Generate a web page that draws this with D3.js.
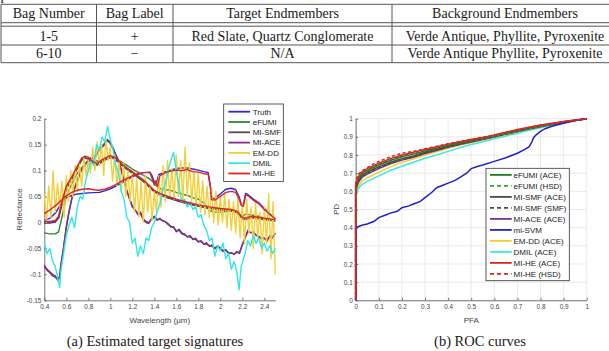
<!DOCTYPE html>
<html>
<head>
<meta charset="utf-8">
<script src="https://cdn.jsdelivr.net/npm/d3@7"></script>
<style>
body { margin: 0; background: #fff; }
svg { display: block; }
.serif { font-family: "Liberation Serif", "Times New Roman", Times, serif; fill: #1a1a1a; }
.axis text { font-family: "Liberation Sans", Arial, sans-serif; font-size: 6.4px; fill: #444; }
.axis path, .axis line { stroke: #555; stroke-width: 0.8; }
.lab { font-family: "Liberation Sans", Arial, sans-serif; font-size: 8px; fill: #444; }
.leg { font-family: "Liberation Sans", Arial, sans-serif; font-size: 8px; fill: #222; }
</style>
</head>
<body>
<svg width="609" height="351"></svg>
<script>
// table
var tableHead = ["Bag Number", "Bag Label", "Target Endmembers", "Background Endmembers"];
var tableRows = [
  ["1-5", "+", "Red Slate, Quartz Conglomerate", "Verde Antique, Phyllite, Pyroxenite"],
  ["6-10", "\u2212", "N/A", "Verde Antique Phyllite, Pyroxenite"]
];

// (a) estimated target signatures, [wavelength, reflectance]
var sigNames = ["Truth", "eFUMI", "MI-SMF", "MI-ACE", "EM-DD", "DMIL", "MI-HE"];
var sigColors = ["#2a2ae0", "#2a8a2a", "#505050", "#7e2f8e", "#f3cf3a", "#2ee8e8", "#e32222"];

var truthA = [[0.40,0.004],[0.45,0.008],[0.50,0.018],[0.55,0.035],[0.60,0.048],[0.65,0.052],[0.70,0.055],[0.80,0.057],[0.90,0.058],[0.95,0.061],[1.00,0.065],[1.05,0.070],[1.10,0.076],[1.15,0.082],[1.20,0.088],[1.25,0.093],[1.30,0.096],[1.36,0.097],[1.38,0.090],[1.40,0.078],[1.42,0.076],[1.44,0.092],[1.50,0.098],[1.55,0.101],[1.60,0.104],[1.65,0.105],[1.70,0.105],[1.75,0.103],[1.80,0.101],[1.85,0.098],[1.89,0.096],[1.91,0.070],[1.92,0.047],[1.95,0.046],[2.00,0.055],[2.05,0.064],[2.10,0.066],[2.14,0.063],[2.17,0.050],[2.19,0.036],[2.21,0.034],[2.23,0.056],[2.25,0.054],[2.30,0.045],[2.35,0.038],[2.40,0.027],[2.45,0.017],[2.50,0.006]];
var truthB = [[0.40,-0.001],[0.45,-0.001],[0.50,0.001],[0.53,0.009],[0.56,0.036],[0.60,0.066],[0.65,0.085],[0.70,0.105],[0.74,0.121],[0.77,0.125],[0.80,0.123],[0.84,0.114],[0.88,0.111],[0.92,0.117],[0.96,0.122],[1.00,0.126],[1.04,0.123],[1.08,0.116],[1.12,0.108],[1.16,0.102],[1.20,0.096],[1.25,0.088],[1.30,0.080],[1.35,0.070],[1.40,0.060],[1.45,0.054],[1.50,0.050],[1.60,0.043],[1.70,0.037],[1.80,0.032],[1.90,0.028],[2.00,0.025],[2.10,0.023],[2.15,0.020],[2.20,0.008],[2.23,0.006],[2.28,0.010],[2.35,0.008],[2.40,0.006],[2.45,0.005],[2.50,0.003]];
var efumi = [[0.40,-0.020],[0.45,-0.022],[0.50,-0.022],[0.53,-0.018],[0.56,0.010],[0.60,0.050],[0.65,0.075],[0.70,0.095],[0.75,0.108],[0.80,0.118],[0.85,0.120],[0.90,0.118],[0.95,0.122],[1.00,0.127],[1.05,0.124],[1.10,0.117],[1.15,0.110],[1.20,0.103],[1.25,0.097],[1.30,0.091],[1.35,0.085],[1.40,0.076],[1.43,0.068],[1.47,0.064],[1.50,0.063],[1.55,0.062],[1.60,0.058],[1.65,0.055],[1.70,0.052],[1.75,0.048],[1.80,0.045],[1.85,0.038],[1.88,0.030],[1.90,0.023],[1.95,0.020],[2.00,0.020],[2.05,0.021],[2.10,0.022],[2.15,0.019],[2.20,0.012],[2.23,0.016],[2.30,0.014],[2.35,0.012],[2.40,0.008],[2.45,0.005],[2.50,0.004]];
var miSmf = [[0.400,-0.085],[0.425,-0.092],[0.450,-0.097],[0.475,-0.103],[0.500,-0.106],[0.525,-0.110],[0.540,-0.103],[0.550,-0.082],[0.575,-0.048],[0.600,-0.008],[0.625,0.022],[0.650,0.047],[0.675,0.066],[0.700,0.082],[0.725,0.097],[0.750,0.107],[0.775,0.114],[0.800,0.120],[0.825,0.122],[0.850,0.125],[0.875,0.132],[0.900,0.142],[0.925,0.147],[0.950,0.153],[0.975,0.160],[1.000,0.154],[1.025,0.144],[1.050,0.131],[1.075,0.120],[1.100,0.102],[1.125,0.082],[1.150,0.062],[1.175,0.046],[1.200,0.032],[1.225,0.024],[1.250,0.018],[1.275,0.016],[1.300,0.007],[1.325,0.002],[1.350,0.000],[1.375,0.006],[1.400,0.010],[1.425,0.006],[1.450,0.006],[1.475,0.004],[1.500,0.001],[1.525,-0.004],[1.550,-0.007],[1.575,-0.010],[1.600,-0.016],[1.625,-0.015],[1.650,-0.022],[1.675,-0.024],[1.700,-0.027],[1.725,-0.028],[1.750,-0.031],[1.775,-0.033],[1.800,-0.036],[1.825,-0.037],[1.850,-0.041],[1.875,-0.042],[1.900,-0.044],[1.925,-0.046],[1.950,-0.049],[1.975,-0.046],[2.000,-0.049],[2.025,-0.054],[2.050,-0.054],[2.075,-0.058],[2.100,-0.059],[2.125,-0.060],[2.150,-0.058],[2.175,-0.057],[2.200,-0.044],[2.225,-0.030],[2.250,-0.018],[2.275,-0.019],[2.300,-0.020],[2.325,-0.024],[2.350,-0.027],[2.375,-0.030],[2.400,-0.031],[2.425,-0.033],[2.450,-0.027],[2.475,-0.028],[2.500,-0.021]];
var miSmfB = [[0.40,0.000],[0.45,0.001],[0.50,0.002],[0.53,0.008],[0.56,0.034],[0.60,0.064],[0.65,0.084],[0.70,0.104],[0.74,0.120],[0.77,0.124],[0.80,0.122],[0.84,0.114],[0.88,0.111],[0.92,0.116],[0.96,0.121],[1.00,0.125],[1.04,0.122],[1.08,0.115],[1.12,0.107],[1.16,0.101],[1.20,0.095],[1.25,0.087],[1.30,0.079],[1.35,0.069],[1.40,0.059],[1.45,0.053],[1.50,0.049],[1.60,0.042],[1.70,0.036],[1.80,0.031],[1.90,0.027],[2.00,0.024],[2.10,0.022],[2.15,0.019],[2.20,0.007],[2.23,0.005],[2.28,0.009],[2.35,0.007],[2.40,0.005],[2.45,0.004],[2.50,0.002]];
var miAce = [[0.400,-0.082],[0.425,-0.090],[0.450,-0.095],[0.475,-0.100],[0.500,-0.103],[0.525,-0.112],[0.540,-0.106],[0.550,-0.085],[0.575,-0.050],[0.600,-0.010],[0.625,0.020],[0.650,0.045],[0.675,0.065],[0.700,0.080],[0.725,0.095],[0.750,0.105],[0.775,0.112],[0.800,0.118],[0.825,0.125],[0.850,0.122],[0.875,0.130],[0.900,0.140],[0.925,0.145],[0.950,0.150],[0.975,0.158],[1.000,0.152],[1.025,0.142],[1.050,0.130],[1.075,0.118],[1.100,0.100],[1.125,0.080],[1.150,0.060],[1.175,0.045],[1.200,0.030],[1.225,0.025],[1.250,0.015],[1.275,0.020],[1.300,0.005],[1.325,0.000],[1.350,-0.002],[1.375,0.008],[1.400,0.012],[1.425,0.004],[1.450,0.008],[1.475,0.003],[1.500,0.002],[1.525,-0.002],[1.550,-0.009],[1.575,-0.008],[1.600,-0.018],[1.625,-0.013],[1.650,-0.020],[1.675,-0.022],[1.700,-0.028],[1.725,-0.025],[1.750,-0.033],[1.775,-0.030],[1.800,-0.038],[1.825,-0.035],[1.850,-0.042],[1.875,-0.039],[1.900,-0.046],[1.925,-0.043],[1.950,-0.051],[1.975,-0.045],[2.000,-0.050],[2.025,-0.056],[2.050,-0.052],[2.075,-0.060],[2.100,-0.058],[2.125,-0.062],[2.150,-0.056],[2.175,-0.060],[2.200,-0.042],[2.225,-0.030],[2.250,-0.015],[2.275,-0.020],[2.300,-0.018],[2.325,-0.025],[2.350,-0.028],[2.375,-0.032],[2.400,-0.030],[2.425,-0.036],[2.450,-0.025],[2.475,-0.030],[2.500,-0.020]];
var emdd = [[0.40,0.055],[0.42,0.000],[0.44,0.070],[0.46,0.010],[0.48,0.100],[0.50,0.020],[0.52,0.075],[0.54,0.030],[0.56,0.080],[0.58,0.010],[0.60,0.090],[0.62,0.040],[0.64,0.100],[0.66,0.050],[0.68,0.110],[0.70,0.060],[0.72,0.115],[0.74,0.070],[0.76,0.125],[0.78,0.090],[0.80,0.120],[0.82,0.095],[0.84,0.145],[0.86,0.100],[0.88,0.155],[0.90,0.110],[0.92,0.150],[0.94,0.090],[0.96,0.160],[0.98,0.120],[1.00,0.145],[1.02,0.080],[1.04,0.130],[1.06,0.070],[1.08,0.120],[1.10,0.060],[1.12,0.115],[1.14,0.050],[1.16,0.100],[1.18,0.040],[1.20,0.095],[1.22,0.020],[1.24,0.085],[1.26,0.010],[1.28,0.080],[1.30,0.000],[1.32,0.090],[1.34,0.020],[1.36,0.070],[1.38,0.005],[1.40,0.060],[1.42,0.020],[1.44,0.090],[1.46,0.030],[1.48,0.110],[1.50,0.040],[1.52,0.120],[1.54,0.050],[1.56,0.105],[1.58,0.045],[1.60,0.130],[1.62,0.050],[1.64,0.120],[1.66,0.040],[1.68,0.145],[1.70,0.050],[1.72,0.115],[1.74,0.040],[1.76,0.100],[1.78,0.030],[1.80,0.095],[1.82,0.020],[1.84,0.080],[1.86,0.015],[1.88,0.070],[1.90,0.010],[1.92,0.065],[1.94,0.000],[1.96,0.060],[1.98,-0.005],[2.00,0.050],[2.02,0.000],[2.04,0.055],[2.06,-0.010],[2.08,0.045],[2.10,-0.015],[2.12,0.040],[2.14,-0.020],[2.16,0.050],[2.18,-0.030],[2.20,0.035],[2.22,-0.040],[2.24,0.045],[2.26,-0.020],[2.28,0.030],[2.30,-0.050],[2.32,0.040],[2.34,-0.030],[2.36,0.020],[2.38,-0.060],[2.40,0.030],[2.42,-0.040],[2.44,0.055],[2.46,-0.070],[2.48,0.040],[2.50,-0.100]];
var dmil = [[0.400,-0.040],[0.425,-0.060],[0.450,-0.050],[0.475,-0.075],[0.500,-0.085],[0.525,-0.110],[0.540,-0.125],[0.550,-0.095],[0.575,-0.060],[0.600,-0.025],[0.625,-0.005],[0.650,0.010],[0.675,-0.010],[0.700,0.030],[0.725,0.050],[0.750,0.045],[0.775,0.080],[0.800,0.100],[0.825,0.120],[0.850,0.110],[0.875,0.150],[0.900,0.140],[0.925,0.165],[0.950,0.155],[0.975,0.185],[1.000,0.160],[1.025,0.140],[1.050,0.110],[1.075,0.095],[1.100,0.060],[1.125,0.045],[1.150,0.010],[1.175,0.000],[1.200,-0.040],[1.225,-0.030],[1.250,-0.065],[1.275,-0.045],[1.300,-0.060],[1.325,-0.030],[1.350,-0.035],[1.375,-0.010],[1.400,0.000],[1.425,0.020],[1.450,0.035],[1.475,0.060],[1.500,0.075],[1.525,0.100],[1.550,0.120],[1.575,0.135],[1.600,0.100],[1.625,0.070],[1.650,0.040],[1.675,0.045],[1.700,0.030],[1.725,0.040],[1.750,0.025],[1.775,0.030],[1.800,0.010],[1.825,0.015],[1.850,-0.005],[1.875,-0.015],[1.900,-0.035],[1.925,-0.030],[1.950,-0.065],[1.975,-0.045],[2.000,-0.055],[2.025,-0.040],[2.050,-0.070],[2.075,-0.060],[2.100,-0.090],[2.125,-0.075],[2.150,-0.095],[2.170,-0.130],[2.190,-0.085],[2.225,-0.060],[2.250,-0.035],[2.275,-0.045],[2.300,-0.025],[2.325,-0.040],[2.350,-0.030],[2.375,-0.050],[2.400,-0.040],[2.425,-0.055],[2.450,-0.045],[2.475,-0.060],[2.500,-0.050]];
var miheA = [[0.40,0.017],[0.45,0.024],[0.50,0.032],[0.55,0.042],[0.60,0.051],[0.65,0.058],[0.70,0.062],[0.75,0.064],[0.80,0.065],[0.85,0.063],[0.90,0.062],[0.95,0.064],[1.00,0.068],[1.05,0.073],[1.10,0.079],[1.15,0.085],[1.20,0.090],[1.25,0.094],[1.30,0.096],[1.36,0.096],[1.38,0.085],[1.40,0.072],[1.41,0.080],[1.43,0.070],[1.45,0.090],[1.50,0.096],[1.55,0.099],[1.60,0.101],[1.65,0.100],[1.70,0.102],[1.75,0.098],[1.80,0.097],[1.85,0.094],[1.89,0.093],[1.91,0.068],[1.92,0.044],[1.95,0.043],[2.00,0.050],[2.05,0.058],[2.10,0.060],[2.14,0.058],[2.17,0.046],[2.19,0.033],[2.21,0.031],[2.23,0.053],[2.25,0.052],[2.30,0.043],[2.35,0.036],[2.40,0.025],[2.45,0.016],[2.50,0.007]];
var miheB = [[0.40,0.002],[0.45,0.002],[0.50,0.004],[0.53,0.012],[0.56,0.040],[0.60,0.070],[0.65,0.088],[0.70,0.108],[0.74,0.124],[0.77,0.128],[0.80,0.126],[0.84,0.117],[0.88,0.114],[0.92,0.120],[0.96,0.125],[1.00,0.129],[1.04,0.126],[1.08,0.118],[1.12,0.110],[1.16,0.104],[1.20,0.098],[1.25,0.090],[1.30,0.082],[1.35,0.072],[1.40,0.062],[1.45,0.056],[1.50,0.052],[1.60,0.045],[1.70,0.039],[1.80,0.034],[1.90,0.030],[2.00,0.027],[2.10,0.025],[2.15,0.022],[2.20,0.010],[2.23,0.008],[2.28,0.012],[2.35,0.010],[2.40,0.008],[2.45,0.007],[2.50,0.005]];

var sigXTicks = [0.4, 0.6, 0.8, 1, 1.2, 1.4, 1.6, 1.8, 2, 2.2, 2.4];
var sigYTicks = [-0.15, -0.1, -0.05, 0, 0.05, 0.1, 0.15, 0.2];

// (b) ROC curves
var pfa = [0, 0, 0.005, 0.01, 0.02, 0.03, 0.05, 0.075, 0.1, 0.15, 0.2, 0.25, 0.3, 0.35, 0.4, 0.45, 0.5, 0.55, 0.6, 0.65, 0.7, 0.75, 0.8, 0.85, 0.9, 0.95, 1];
var pdEfumiAce = [0, 0.62, 0.645, 0.665, 0.685, 0.70, 0.715, 0.73, 0.745, 0.77, 0.79, 0.805, 0.822, 0.838, 0.853, 0.868, 0.88, 0.893, 0.907, 0.922, 0.937, 0.95, 0.962, 0.972, 0.982, 0.991, 1];
var pdEfumiHsd = [0, 0.63, 0.65, 0.67, 0.69, 0.70, 0.72, 0.735, 0.75, 0.775, 0.795, 0.81, 0.825, 0.84, 0.855, 0.868, 0.878, 0.89, 0.902, 0.915, 0.928, 0.942, 0.955, 0.967, 0.978, 0.989, 1];
var pdSmfAce = [0, 0.61, 0.635, 0.655, 0.675, 0.69, 0.705, 0.72, 0.735, 0.76, 0.78, 0.795, 0.815, 0.832, 0.848, 0.863, 0.876, 0.89, 0.905, 0.92, 0.935, 0.948, 0.96, 0.971, 0.982, 0.991, 1];
var pdSmfSmf = [0, 0.60, 0.63, 0.65, 0.67, 0.685, 0.70, 0.715, 0.73, 0.755, 0.775, 0.79, 0.81, 0.827, 0.844, 0.86, 0.874, 0.887, 0.9, 0.915, 0.93, 0.944, 0.957, 0.969, 0.98, 0.99, 1];
var pdAceAce = [0, 0.60, 0.625, 0.645, 0.665, 0.68, 0.695, 0.71, 0.725, 0.752, 0.772, 0.788, 0.808, 0.825, 0.842, 0.858, 0.872, 0.886, 0.9, 0.915, 0.93, 0.944, 0.957, 0.969, 0.98, 0.99, 1];
var pdEmdd = [0, 0.58, 0.605, 0.625, 0.645, 0.66, 0.675, 0.69, 0.705, 0.735, 0.76, 0.778, 0.80, 0.818, 0.837, 0.853, 0.868, 0.882, 0.897, 0.912, 0.927, 0.942, 0.955, 0.967, 0.979, 0.99, 1];
var pdDmil = [0, 0.56, 0.59, 0.61, 0.63, 0.64, 0.655, 0.67, 0.685, 0.715, 0.738, 0.76, 0.782, 0.80, 0.82, 0.84, 0.858, 0.873, 0.89, 0.905, 0.92, 0.936, 0.95, 0.964, 0.977, 0.989, 1];
var pdMiheAce = [0, 0.64, 0.66, 0.68, 0.70, 0.71, 0.725, 0.74, 0.755, 0.78, 0.80, 0.815, 0.83, 0.845, 0.86, 0.873, 0.885, 0.897, 0.91, 0.925, 0.94, 0.953, 0.965, 0.975, 0.985, 0.993, 1];
var pdMiheHsd = [0, 0.65, 0.675, 0.69, 0.705, 0.715, 0.73, 0.75, 0.765, 0.79, 0.81, 0.82, 0.835, 0.848, 0.862, 0.875, 0.886, 0.898, 0.91, 0.924, 0.938, 0.952, 0.963, 0.974, 0.984, 0.992, 1];
var pfaSvm = [0, 0, 0.01, 0.03, 0.05, 0.08, 0.1, 0.13, 0.15, 0.18, 0.2, 0.23, 0.25, 0.28, 0.3, 0.33, 0.35, 0.38, 0.4, 0.43, 0.45, 0.48, 0.5, 0.53, 0.55, 0.6, 0.65, 0.7, 0.73, 0.75, 0.76, 0.77, 0.78, 0.8, 0.82, 0.85, 0.9, 0.95, 1];
var pdSvm = [0, 0.395, 0.405, 0.415, 0.42, 0.435, 0.455, 0.47, 0.48, 0.49, 0.51, 0.52, 0.53, 0.545, 0.565, 0.595, 0.62, 0.635, 0.645, 0.66, 0.675, 0.70, 0.725, 0.738, 0.745, 0.765, 0.785, 0.81, 0.83, 0.845, 0.865, 0.895, 0.91, 0.93, 0.945, 0.958, 0.975, 0.99, 1];

var rocNames = ["eFUMI (ACE)", "eFUMI (HSD)", "MI-SMF (ACE)", "MI-SMF (SMF)", "MI-ACE (ACE)", "mi-SVM", "EM-DD (ACE)", "DMIL (ACE)", "MI-HE (ACE)", "MI-HE (HSD)"];
var rocColors = ["#1e7e1e", "#2ea82e", "#4a4a4a", "#4a4a4a", "#7e2f8e", "#2020cc", "#f5d030", "#3ee6e6", "#e32222", "#e32222"];
var rocDash = [false, true, false, true, false, false, false, false, false, true];
var rocTicks = [0, 0.1, 0.2, 0.3, 0.4, 0.5, 0.6, 0.7, 0.8, 0.9, 1];

var svg = d3.select("svg");
svg.append("rect").attr("width", 609).attr("height", 351).attr("fill", "#fff");

// ---------- table ----------
var colX = [1, 96.5, 173, 392, 618];
var hLines = [4.3, 22.7, 26.2, 45, 62.7];
var tg = svg.append("g");
hLines.forEach(function(y) {
  tg.append("line").attr("x1", colX[0]).attr("x2", colX[4]).attr("y1", y).attr("y2", y)
    .attr("stroke", "#555").attr("stroke-width", 1);
});
colX.forEach(function(x) {
  tg.append("line").attr("x1", x).attr("x2", x).attr("y1", hLines[0]).attr("y2", hLines[4])
    .attr("stroke", "#555").attr("stroke-width", 1);
});
var rowBase = [17.6, 40.6, 58.2];
[tableHead].concat(tableRows).forEach(function(row, r) {
  row.forEach(function(t, c) {
    tg.append("text").attr("class", "serif")
      .attr("x", (colX[c] + colX[c + 1]) / 2).attr("y", rowBase[r])
      .attr("text-anchor", "middle").style("font-size", "14px")
      .attr("fill", (r > 0 && c == 1) ? "#777" : "#1a1a1a")
      .text(t);
  });
});
// descender of the text above the table
tg.append("text").attr("class", "serif").attr("x", 0.5).attr("y", -0.5).style("font-size", "14px").text("p");

// ---------- (a) signatures ----------
var xL = d3.scaleLinear().domain([0.4, 2.5]).range([44.3, 275.3]);
var yL = d3.scaleLinear().domain([-0.15, 0.2]).range([300.3, 118.7]);

svg.append("g").attr("class", "axis")
    .attr("transform", "translate(0," + yL(-0.15) + ")")
    .call(d3.axisBottom(xL).tickValues(sigXTicks).tickFormat(String).tickSizeInner(-2.5).tickSizeOuter(0).tickPadding(4));
svg.append("g").attr("class", "axis")
    .attr("transform", "translate(" + xL(0.4) + ",0)")
    .call(d3.axisLeft(yL).tickValues(sigYTicks).tickFormat(String).tickSizeInner(-2.5).tickSizeOuter(0).tickPadding(3));

var lineL = d3.line().x(function(d) { return xL(d[0]); }).y(function(d) { return yL(d[1]); });
var sigSeries = [
  [truthA, 0], [truthB, 0], [efumi, 1], [miSmfB, 2], [miSmf, 2], [miAce, 3],
  [emdd, 4], [dmil, 5], [miheA, 6], [miheB, 6]
];
svg.append("g").selectAll("path").data(sigSeries).enter().append("path")
    .attr("d", function(d) { return lineL(d[0]); })
    .attr("fill", "none")
    .attr("stroke", function(d) { return sigColors[d[1]]; })
    .attr("stroke-width", 1.4)
    .attr("stroke-linejoin", "round");

svg.append("text").attr("class", "lab").attr("x", 159.8).attr("y", 322.5)
    .attr("text-anchor", "middle").text("Wavelength (\u03bcm)");
svg.append("text").attr("class", "lab").attr("transform", "translate(22.3,209.5) rotate(-90)")
    .attr("text-anchor", "middle").text("Reflectance");

var legA = svg.append("g");
legA.append("rect").attr("x", 223.7).attr("y", 104).attr("width", 59.6).attr("height", 77.5)
    .attr("fill", "#fff").attr("stroke", "#333").attr("stroke-width", 0.8);
sigNames.forEach(function(n, i) {
  var y = 111.7 + i * 10.3;
  legA.append("line").attr("x1", 228.3).attr("x2", 250).attr("y1", y).attr("y2", y)
      .attr("stroke", sigColors[i]).attr("stroke-width", 1.8);
  legA.append("text").attr("class", "leg").attr("x", 252.7).attr("y", y + 2.8).text(n);
});

svg.append("text").attr("class", "serif").attr("x", 155).attr("y", 346)
    .attr("text-anchor", "middle").style("font-size", "14.5px").text("(a)  Estimated target signatures");

// ---------- (b) ROC ----------
var xR = d3.scaleLinear().domain([0, 1]).range([355.7, 586.7]);
var yR = d3.scaleLinear().domain([0, 1]).range([300.3, 118.7]);

var grid = svg.append("g").attr("stroke", "#e3e3e3").attr("stroke-width", 0.8);
rocTicks.forEach(function(t) {
  grid.append("line").attr("x1", xR(t)).attr("x2", xR(t)).attr("y1", yR(0)).attr("y2", yR(1));
  grid.append("line").attr("x1", xR(0)).attr("x2", xR(1)).attr("y1", yR(t)).attr("y2", yR(t));
});

svg.append("g").attr("class", "axis")
    .attr("transform", "translate(0," + yR(0) + ")")
    .call(d3.axisBottom(xR).tickValues(rocTicks).tickFormat(String).tickSizeInner(-2.5).tickSizeOuter(0).tickPadding(4));
svg.append("g").attr("class", "axis")
    .attr("transform", "translate(" + xR(0) + ",0)")
    .call(d3.axisLeft(yR).tickValues(rocTicks).tickFormat(String).tickSizeInner(-2.5).tickSizeOuter(0).tickPadding(3));

function pairs(xs, ys) { return xs.map(function(x, i) { return [x, ys[i]]; }); }
var rocData = [
  pairs(pfa, pdEfumiAce), pairs(pfa, pdEfumiHsd), pairs(pfa, pdSmfAce), pairs(pfa, pdSmfSmf),
  pairs(pfa, pdAceAce), pairs(pfaSvm, pdSvm), pairs(pfa, pdEmdd), pairs(pfa, pdDmil),
  pairs(pfa, pdMiheAce), pairs(pfa, pdMiheHsd)
];
var rocOrder = [6, 7, 4, 3, 2, 1, 0, 5, 9, 8];
var lineR = d3.line().x(function(d) { return xR(d[0]); }).y(function(d) { return yR(d[1]); });
svg.append("g").selectAll("path").data(rocOrder).enter().append("path")
    .attr("d", function(i) { return lineR(rocData[i]); })
    .attr("fill", "none")
    .attr("stroke", function(i) { return rocColors[i]; })
    .attr("stroke-width", 1.5)
    .attr("stroke-dasharray", function(i) { return rocDash[i] ? "3,2.5" : null; });

svg.append("text").attr("class", "lab").attr("x", 471.2).attr("y", 322.5)
    .attr("text-anchor", "middle").text("PFA");
svg.append("text").attr("class", "lab").attr("transform", "translate(339,209.5) rotate(-90)")
    .attr("text-anchor", "middle").text("PD");

var legB = svg.append("g");
legB.append("rect").attr("x", 486).attr("y", 168.3).attr("width", 83.3).attr("height", 112.4)
    .attr("fill", "#fff").attr("stroke", "#333").attr("stroke-width", 0.8);
rocNames.forEach(function(n, i) {
  var y = 174.9 + i * 11;
  legB.append("line").attr("x1", 490).attr("x2", 511.7).attr("y1", y).attr("y2", y)
      .attr("stroke", rocColors[i]).attr("stroke-width", 1.8)
      .attr("stroke-dasharray", rocDash[i] ? "4,3" : null);
  legB.append("text").attr("class", "leg").attr("x", 513.5).attr("y", y + 2.8).text(n);
});

svg.append("text").attr("class", "serif").attr("x", 480).attr("y", 346)
    .attr("text-anchor", "middle").style("font-size", "14.5px").text("(b)  ROC curves");
</script>
</body>
</html>
